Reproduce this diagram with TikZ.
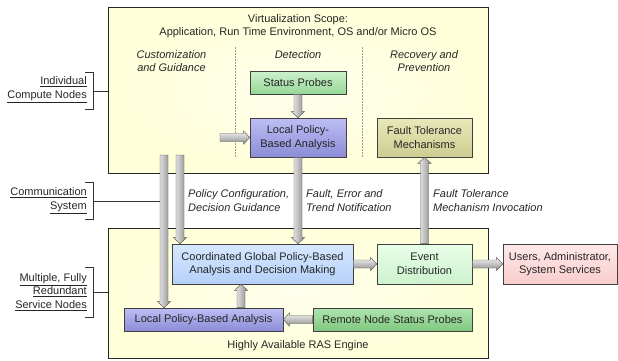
\documentclass[tikz,border=0pt]{standalone}
\usepackage{fontspec}
\setmainfont{Liberation Sans}
\usetikzlibrary{calc}
\definecolor{yel}{RGB}{255,255,218}
\definecolor{yelin}{RGB}{255,255,236}
\definecolor{spT}{RGB}{205,242,205}\definecolor{spB}{RGB}{150,215,150}
\definecolor{lpT}{RGB}{190,190,245}\definecolor{lpB}{RGB}{140,140,215}
\definecolor{ftT}{RGB}{232,232,185}\definecolor{ftB}{RGB}{205,205,145}
\definecolor{cgT}{RGB}{215,232,255}\definecolor{cgB}{RGB}{180,208,248}
\definecolor{edT}{RGB}{232,255,232}\definecolor{edB}{RGB}{205,242,205}
\definecolor{usT}{RGB}{255,232,232}\definecolor{usB}{RGB}{248,205,205}
\definecolor{rpT}{RGB}{175,228,175}\definecolor{rpB}{RGB}{128,200,128}
\tikzset{
  every node/.style={font=\fontsize{11}{13.5}\selectfont, text=black!85},
  box/.style={draw=black!75, line width=0.6pt, inner sep=0pt, align=center},
  area/.style={draw=black!85, line width=0.7pt, inner sep=0pt},
  lab/.style={inner sep=0pt, align=left, anchor=west, font=\fontsize{11}{13.5}\selectfont\itshape},
  side/.style={inner sep=0pt, align=right, anchor=east},
  fatarr/.style={draw=black!65, line width=0.45pt},
  brk/.style={draw=black!80, line width=0.6pt},
  sep/.style={draw=black!40, line width=0.5pt, dash pattern=on 1.5pt off 1.5pt}
}
\newcommand\varr[2]{%
  \path[fatarr, left color=black!6, right color=black!45]
    let \p1=(#1), \p2=(#2), \n1={ifthenelse(\y2<\y1,1,-1)} in
    (\x1-4pt,\y1) -- (\x1-4pt,{\y2+\n1*6pt}) -- (\x1-6.5pt,{\y2+\n1*6pt}) -- (\x1,\y2)
    -- (\x1+6.5pt,{\y2+\n1*6pt}) -- (\x1+4pt,{\y2+\n1*6pt}) -- (\x1+4pt,\y1) -- cycle;}
\newcommand\harr[2]{%
  \path[fatarr, top color=black!4, bottom color=black!45]
    let \p1=(#1), \p2=(#2), \n1={ifthenelse(\x2<\x1,1,-1)} in
    (\x1,\y1-4pt) -- ({\x2+\n1*6pt},\y1-4pt) -- ({\x2+\n1*6pt},\y1-6.5pt) -- (\x2,\y1)
    -- ({\x2+\n1*6pt},\y1+6.5pt) -- ({\x2+\n1*6pt},\y1+4pt) -- (\x1,\y1+4pt) -- cycle;}
\begin{document}
\begin{tikzpicture}[x=1pt,y=-1pt]
\useasboundingbox (0,0) rectangle (618,360);
% areas
\node[area, minimum width=380pt, minimum height=166pt, inner color=yelin, outer color=yel] (topbox) at (298,90) {};
\node[area, minimum width=380pt, minimum height=130pt, inner color=yelin, outer color=yel] (botbox) at (298,293) {};
% texts in top area
\node[inner sep=0pt, align=center] (title) at (298,26) {Virtualization Scope:\\Application, Run Time Environment, OS and/or Micro OS};
\node[inner sep=0pt, align=center, font=\fontsize{11}{13.5}\selectfont\itshape] (h1) at (171.5,61) {Customization\\and Guidance};
\node[inner sep=0pt, align=center, font=\fontsize{11}{13.5}\selectfont\itshape] (h2) at (298,55) {Detection};
\node[inner sep=0pt, align=center, font=\fontsize{11}{13.5}\selectfont\itshape] (h3) at (424,61) {Recovery and\\Prevention};
\coordinate (d1a) at (235,47); \coordinate (d1b) at (235,157);
\coordinate (d2a) at (362,47); \coordinate (d2b) at (362,157);
\draw[sep] (d1a) -- (d1b);
\draw[sep] (d2a) -- (d2b);
\node[inner sep=0pt] (ras) at (298,346) {Highly Available RAS Engine};
% boxes
\node[box, minimum width=96pt, minimum height=23pt, top color=spT, bottom color=spB] (sp) at (298,82.5) {Status Probes};
\node[box, minimum width=96pt, minimum height=39pt, top color=lpT, bottom color=lpB] (lpt) at (298,137.5) {Local Policy-\\Based Analysis};
\node[box, minimum width=95pt, minimum height=39pt, top color=ftT, bottom color=ftB] (ftm) at (424.5,137.5) {Fault Tolerance\\Mechanisms};
\node[box, minimum width=181pt, minimum height=40pt, top color=cgT, bottom color=cgB] (cg) at (262.5,264) {Coordinated Global Policy-Based\\Analysis and Decision Making};
\node[box, minimum width=95pt, minimum height=40pt, top color=edT, bottom color=edB] (ed) at (424.5,264) {Event\\Distribution};
\node[box, minimum width=114pt, minimum height=40pt, top color=usT, bottom color=usB] (us) at (560,264) {Users, Administrator,\\System Services};
\node[box, minimum width=159pt, minimum height=23pt, top color=lpT, bottom color=lpB] (lpb) at (203.5,319.5) {Local Policy-Based Analysis};
\node[box, minimum width=159pt, minimum height=23pt, top color=rpT, bottom color=rpB] (rp) at (392.5,319.5) {Remote Node Status Probes};
% arrow starts
\coordinate (a1) at (164,155);
\coordinate (a2) at (180,155);
\coordinate (a3) at (220,137.5);
\coordinate (a4) at (241,0);
% left side labels and brackets
\node[side] (l1) at (87,89.5) {\underline{Individual}\\\underline{Compute Nodes}};
\node[side] (l2) at (87,200.5) {\underline{Communication}\\\underline{System}};
\node[side] (l3) at (87,292) {\underline{Multiple, Fully}\\\underline{Redundant}\\\underline{Service Nodes}};
\coordinate (b1) at (93,91); \coordinate (b2) at (93,201); \coordinate (b3) at (93,292);
\draw[brk] (85,72) -- (93,72) -- (93,109) -- (85,109);
\draw[brk] (85,182) -- (93,182) -- (93,219) -- (85,219);
\draw[brk] (85,267) -- (93,267) -- (93,317) -- (85,317);
\draw[brk] (b1) -- (b1 -| topbox.west);
\draw[brk] (b2) -- ([xshift=-4pt]b2 -| a1);
\draw[brk] (b3) -- (b3 -| botbox.west);
% fat arrows
\varr{a1}{lpb.north}
\varr{a2}{cg.north}
\harr{a3}{lpt.west}
\varr{sp.south}{lpt.north}
\varr{lpt.south}{cg.north}
\varr{ed.north}{ftm.south}
\varr{a4 |- lpb.north}{cg.south}
\harr{rp.west}{lpb.east}
\harr{cg.east}{ed.west}
\harr{ed.east}{us.west}
% connector labels
\node[lab] (t1) at (188,200.5) {Policy Configuration,\\Decision Guidance};
\node[lab] (t2) at (306,200.5) {Fault, Error and\\Trend Notification};
\node[lab] (t3) at (433,200.5) {Fault Tolerance\\Mechanism Invocation};
\end{tikzpicture}
\end{document}
